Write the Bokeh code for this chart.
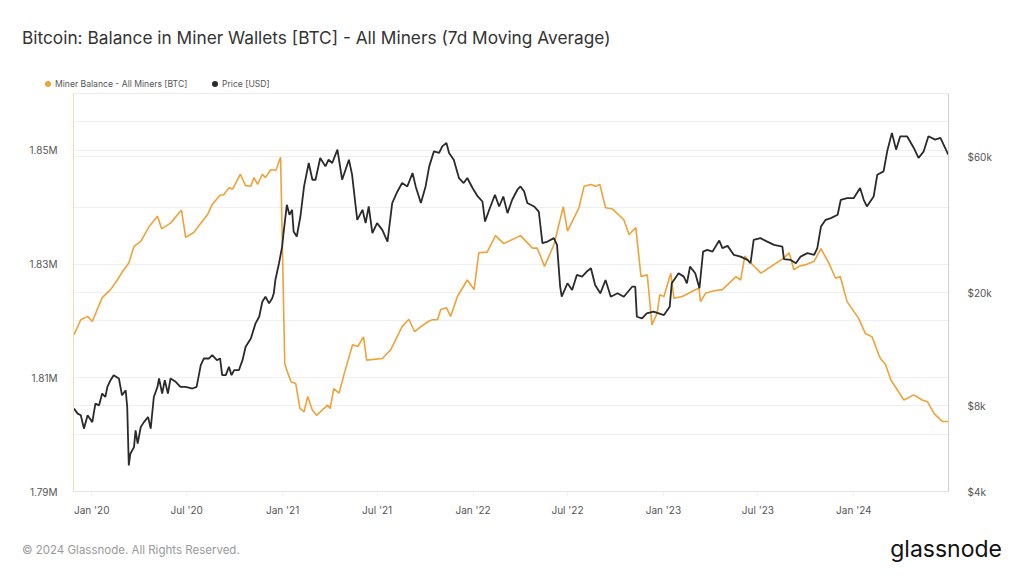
import pandas as pd
from bokeh.plotting import figure
from bokeh.layouts import column
from bokeh.models import (Range1d, LogAxis, LogScale, FixedTicker, Grid, Div,
                          DatetimeTickFormatter, MonthsTicker, ColumnDataSource)
from bokeh.embed import file_html
from bokeh.resources import INLINE

# ---------------- data ----------------
balance_dates = [
    "2019-11-28", "2019-12-11", "2019-12-24", "2020-01-02", "2020-01-21", "2020-02-06",
    "2020-02-19", "2020-02-29", "2020-03-12", "2020-03-22", "2020-04-04", "2020-04-20",
    "2020-05-06", "2020-05-14", "2020-05-31", "2020-06-21", "2020-06-29", "2020-07-15",
    "2020-07-28", "2020-08-10", "2020-08-19", "2020-09-03", "2020-09-10", "2020-09-20",
    "2020-09-27", "2020-10-12", "2020-10-22", "2020-11-01", "2020-11-07", "2020-11-14",
    "2020-11-23", "2020-11-29", "2020-12-09", "2020-12-19", "2020-12-28", "2021-01-05",
    "2021-01-08", "2021-01-17", "2021-01-26", "2021-02-03", "2021-02-11", "2021-02-18",
    "2021-02-27", "2021-03-07", "2021-03-28", "2021-04-02", "2021-04-09", "2021-04-19",
    "2021-05-02", "2021-05-15", "2021-05-25", "2021-06-05", "2021-06-11", "2021-07-11",
    "2021-07-27", "2021-08-18", "2021-08-31", "2021-09-11", "2021-09-23", "2021-10-07",
    "2021-10-15", "2021-10-25", "2021-10-31", "2021-11-11", "2021-11-19", "2021-12-02",
    "2021-12-21", "2022-01-03", "2022-01-12", "2022-01-28", "2022-02-13", "2022-03-01",
    "2022-04-02", "2022-04-25", "2022-05-04", "2022-05-18", "2022-06-05", "2022-06-23",
    "2022-07-01", "2022-07-23", "2022-08-02", "2022-08-15", "2022-08-24", "2022-09-01",
    "2022-09-12", "2022-09-25", "2022-10-17", "2022-10-27", "2022-11-09", "2022-11-19",
    "2022-12-01", "2022-12-10", "2022-12-20", "2022-12-25", "2023-01-02", "2023-01-15",
    "2023-01-21", "2023-02-06", "2023-03-10", "2023-03-13", "2023-03-23", "2023-04-08",
    "2023-04-24", "2023-05-20", "2023-05-29", "2023-06-06", "2023-06-14", "2023-07-07",
    "2023-08-20", "2023-08-30", "2023-09-08", "2023-09-18", "2023-10-01", "2023-10-17",
    "2023-10-30", "2023-11-14", "2023-11-27", "2023-12-06", "2023-12-19", "2024-01-10",
    "2024-01-23", "2024-02-05", "2024-02-18", "2024-02-21", "2024-03-02", "2024-03-12",
    "2024-04-06", "2024-04-25", "2024-05-11", "2024-05-21", "2024-06-03", "2024-06-19",
    "2024-06-30",
]
balance_btc = [
    1817600, 1820200, 1820800, 1819900, 1824100, 1825500,
    1827200, 1828700, 1830200, 1833100, 1834000, 1836600,
    1838400, 1836200, 1837200, 1839500, 1834700, 1835600,
    1837200, 1838700, 1840500, 1842100, 1842200, 1843400,
    1843200, 1845800, 1843800, 1843700, 1845200, 1844000,
    1845800, 1845200, 1846600, 1846500, 1848800, 1812600,
    1811600, 1809300, 1809000, 1804600, 1804000, 1806700,
    1804300, 1803400, 1805200, 1804600, 1808100, 1807300,
    1811700, 1815800, 1815500, 1817200, 1813100, 1813400,
    1814900, 1819000, 1820300, 1818100, 1819000, 1819900,
    1820200, 1820200, 1822000, 1822300, 1820800, 1824300,
    1827200, 1825500, 1832000, 1832100, 1835000, 1833600,
    1835000, 1832800, 1832800, 1829600, 1833400, 1840100,
    1835800, 1839900, 1843700, 1844000, 1843700, 1844000,
    1839900, 1839700, 1837800, 1835200, 1836400, 1827800,
    1828100, 1819300, 1821400, 1824600, 1824300, 1828400,
    1824000, 1824300, 1825800, 1823400, 1824900, 1825300,
    1825500, 1827800, 1827200, 1831400, 1830500, 1828400,
    1831100, 1832000, 1829000, 1829600, 1829900, 1830500,
    1832700, 1830200, 1827500, 1827800, 1823400, 1820500,
    1817800, 1817200, 1814000, 1813400, 1812300, 1809600,
    1806100, 1807000, 1806100, 1805800, 1803700, 1802300,
    1802300,
]

price_dates = [
    "2019-11-28", "2019-12-05", "2019-12-11", "2019-12-17", "2019-12-24", "2020-01-02",
    "2020-01-08", "2020-01-15", "2020-01-21", "2020-01-27", "2020-01-31", "2020-02-06",
    "2020-02-12", "2020-02-22", "2020-02-28", "2020-03-06", "2020-03-09", "2020-03-12",
    "2020-03-15", "2020-03-22", "2020-03-25", "2020-03-29", "2020-04-04", "2020-04-10",
    "2020-04-18", "2020-04-23", "2020-04-29", "2020-05-06", "2020-05-09", "2020-05-15",
    "2020-05-20", "2020-05-26", "2020-05-31", "2020-06-10", "2020-06-19", "2020-06-29",
    "2020-07-12", "2020-07-20", "2020-07-28", "2020-08-03", "2020-08-13", "2020-08-19",
    "2020-08-28", "2020-09-03", "2020-09-07", "2020-09-14", "2020-09-20", "2020-09-25",
    "2020-09-30", "2020-10-09", "2020-10-16", "2020-10-22", "2020-11-01", "2020-11-10",
    "2020-11-17", "2020-11-23", "2020-11-29", "2020-12-06", "2020-12-12", "2020-12-15",
    "2020-12-18", "2020-12-25", "2020-12-31", "2021-01-03", "2021-01-09", "2021-01-14",
    "2021-01-19", "2021-01-22", "2021-01-28", "2021-02-04", "2021-02-11", "2021-02-20",
    "2021-02-27", "2021-03-05", "2021-03-14", "2021-03-24", "2021-03-30", "2021-04-06",
    "2021-04-16", "2021-04-25", "2021-05-08", "2021-05-14", "2021-05-21", "2021-05-24",
    "2021-06-03", "2021-06-09", "2021-06-15", "2021-06-22", "2021-07-01", "2021-07-11",
    "2021-07-21", "2021-07-30", "2021-08-09", "2021-08-18", "2021-08-28", "2021-09-07",
    "2021-09-13", "2021-09-23", "2021-10-02", "2021-10-09", "2021-10-18", "2021-10-28",
    "2021-11-03", "2021-11-11", "2021-11-16", "2021-11-25", "2021-12-05", "2021-12-14",
    "2021-12-21", "2021-12-31", "2022-01-10", "2022-01-19", "2022-01-24", "2022-02-01",
    "2022-02-12", "2022-02-20", "2022-02-28", "2022-03-08", "2022-03-17", "2022-03-27",
    "2022-04-02", "2022-04-09", "2022-04-15", "2022-04-28", "2022-05-07", "2022-05-14",
    "2022-05-24", "2022-06-05", "2022-06-11", "2022-06-17", "2022-06-20", "2022-07-01",
    "2022-07-10", "2022-07-19", "2022-07-29", "2022-08-07", "2022-08-15", "2022-08-23",
    "2022-09-02", "2022-09-12", "2022-09-22", "2022-10-05", "2022-10-17", "2022-11-02",
    "2022-11-08", "2022-11-11", "2022-11-21", "2022-11-30", "2022-12-13", "2023-01-02",
    "2023-01-13", "2023-01-17", "2023-01-30", "2023-02-09", "2023-02-15", "2023-02-21",
    "2023-03-03", "2023-03-11", "2023-03-18", "2023-03-26", "2023-04-05", "2023-04-18",
    "2023-04-24", "2023-05-04", "2023-05-16", "2023-05-29", "2023-06-11", "2023-06-17",
    "2023-06-23", "2023-07-06", "2023-07-19", "2023-08-01", "2023-08-17", "2023-08-20",
    "2023-09-02", "2023-09-12", "2023-09-21", "2023-10-04", "2023-10-17", "2023-10-23",
    "2023-10-30", "2023-11-08", "2023-11-18", "2023-12-01", "2023-12-07", "2023-12-19",
    "2024-01-01", "2024-01-13", "2024-01-20", "2024-01-26", "2024-02-08", "2024-02-15",
    "2024-02-27", "2024-03-05", "2024-03-14", "2024-03-22", "2024-03-30", "2024-04-12",
    "2024-04-25", "2024-05-04", "2024-05-14", "2024-05-23", "2024-06-05", "2024-06-15",
    "2024-06-24", "2024-06-30",
]
price_usd = [
    7820, 7510, 7410, 6650, 7410, 7010,
    8140, 8030, 8830, 8590, 9320, 9840,
    10250, 9980, 8710, 9070, 7920, 4940,
    5430, 5730, 6560, 5890, 6740, 7010,
    7310, 6650, 8590, 9320, 9980, 8830,
    9840, 8830, 9980, 9710, 9320, 9320,
    9200, 9320, 11110, 11730, 11730, 12050,
    11570, 11730, 10250, 10250, 10960, 10250,
    10670, 10670, 11570, 12890, 13790, 15580,
    16440, 18560, 19330, 18320, 19080, 19870,
    22130, 25340, 28990, 32750, 40660, 37490,
    39040, 32750, 31450, 36970, 47170, 57010,
    49790, 49790, 59370, 55460, 58560, 57010,
    63500, 49790, 58560, 52000, 40100, 36000,
    39040, 35050, 40100, 32320, 35050, 33200,
    30190, 41230, 45280, 48480, 47170, 52570,
    47170, 41230, 47170, 55460, 62640, 61820,
    65220, 67050, 61820, 58560, 50480, 48480,
    50480, 46560, 43480, 41750, 35510, 39040,
    44080, 40100, 43480, 38000, 42340, 45920,
    47170, 45280, 41230, 40100, 38500, 29800,
    30190, 31040, 29400, 20960, 19330, 21550,
    20400, 23050, 22740, 23690, 24340, 21250,
    19870, 22130, 19330, 19870, 19330, 20960,
    20960, 16440, 16220, 16900, 17120, 16670,
    17830, 21550, 23380, 22740, 21550, 24660,
    23380, 20700, 27840, 28230, 27840, 30440,
    28630, 29160, 27110, 26740, 26030, 25340,
    30610, 31040, 30190, 29400, 28990, 26180,
    26030, 25340, 26740, 27490, 27110, 28630,
    34100, 36000, 36500, 37490, 42340, 42920,
    42920, 46560, 42340, 40100, 43480, 51850,
    53260, 62640, 72720, 63500, 70750, 70750,
    64380, 59370, 62640, 70750, 68870, 69820,
    64380, 60980,
]

left_ticks = [1790000, 1800000, 1810000, 1820000, 1830000, 1840000, 1850000, 1860000]
left_labels = ["1.79M", "", "1.81M", "", "1.83M", "", "1.85M", ""]
right_ticks = [4000, 8000, 20000, 60000]
right_labels = ["$4k", "$8k", "$20k", "$60k"]
right_grid_ticks = [8000, 20000, 60000, 80000]

title_text = "Bitcoin: Balance in Miner Wallets [BTC] - All Miners (7d Moving Average)"
series_names = ["Miner Balance - All Miners [BTC]", "Price [USD]"]
footer_text = "\u00a9 2024 Glassnode. All Rights Reserved."
brand_text = "glassnode"

ORANGE = "#f0a23a"
BLACK = "#2a2a2a"
FONT = "Inter"

# ---------------- header (title + legend) ----------------
legend_x = [45, 212]   # dot left edges
header_html = (
    f'<div style="position:relative;width:1024px;height:88px;font-family:{FONT},sans-serif;">'
    f'<div style="position:absolute;left:22px;top:27px;font-size:17.3px;line-height:22px;'
    f'color:#333333;white-space:nowrap;">{title_text}</div>'
)
for name, col, lx in zip(series_names, [ORANGE, BLACK], legend_x):
    header_html += (
        f'<div style="position:absolute;left:{lx}px;top:81px;width:6px;height:6px;'
        f'border-radius:3px;background:{col};"></div>'
        f'<div style="position:absolute;left:{lx + 10}px;top:78px;font-size:8.6px;'
        f'line-height:12px;color:#555555;white-space:nowrap;">{name}</div>'
    )
header_html += '</div>'
header = Div(text=header_html, width=1024, height=88, margin=0)

# ---------------- chart ----------------
bal_src = ColumnDataSource(dict(x=pd.to_datetime(balance_dates), y=balance_btc))
px_src = ColumnDataSource(dict(x=pd.to_datetime(price_dates), y=price_usd))

p = figure(width=1024, height=440, x_axis_type="datetime",
           output_backend="svg", toolbar_location=None,
           x_range=Range1d(pd.Timestamp("2019-11-27"), pd.Timestamp("2024-06-30 12:00")),
           y_range=Range1d(1790000, 1860000),
           min_border_left=73, min_border_right=76,
           min_border_top=5, min_border_bottom=37)
p.extra_y_ranges = {"price": Range1d(4000, 100000)}
p.extra_y_scales = {"price": LogScale()}

p.background_fill_color = "white"
p.border_fill_color = "white"
p.outline_line_color = "#ececec"

# left axis
la = p.yaxis[0]
la.ticker = FixedTicker(ticks=left_ticks)
la.major_label_overrides = {t: l for t, l in zip(left_ticks, left_labels)}
la.axis_line_color = "#f5dcb2"
la.major_tick_line_color = None
la.minor_tick_line_color = None
la.major_label_standoff = 10
la.major_label_text_font = FONT
la.major_label_text_font_size = "10px"
la.major_label_text_color = "#555555"

# right axis
ra = LogAxis(y_range_name="price", ticker=FixedTicker(ticks=right_ticks))
ra.major_label_overrides = {t: l for t, l in zip(right_ticks, right_labels)}
ra.axis_line_color = "#cfcfcf"
ra.major_tick_line_color = None
ra.minor_tick_line_color = None
ra.major_label_standoff = 13
ra.major_label_text_font = FONT
ra.major_label_text_font_size = "10px"
ra.major_label_text_color = "#555555"
p.add_layout(ra, "right")

# x axis
xa = p.xaxis[0]
xa.ticker = MonthsTicker(months=[0, 6])
xa.formatter = DatetimeTickFormatter(months="%b '%y", years="%b '%y", days="%b '%y")
xa.axis_line_color = "#e6e6e6"
xa.major_tick_line_color = "#eeeeee"
xa.major_tick_out = 4
xa.major_tick_in = 0
xa.minor_tick_line_color = None
xa.major_label_standoff = 8
xa.major_label_text_font = FONT
xa.major_label_text_font_size = "10px"
xa.major_label_text_color = "#555555"

# grids
p.xgrid.visible = False
p.ygrid.grid_line_color = "#efefef"
rg = Grid(dimension=1, y_range_name="price", ticker=FixedTicker(ticks=right_grid_ticks),
          grid_line_color="#efefef")
p.add_layout(rg)

# series
p.line("x", "y", source=bal_src, color=ORANGE, line_width=1.6)
p.line("x", "y", source=px_src, color=BLACK, line_width=1.8, y_range_name="price")

# ---------------- footer ----------------
footer_html = (
    f'<div style="position:relative;width:1024px;height:48px;font-family:{FONT},sans-serif;">'
    f'<div style="position:absolute;left:22px;top:15px;font-size:11.5px;line-height:14px;'
    f'color:#9a9a9a;white-space:nowrap;">{footer_text}</div>'
    f'<div style="position:absolute;right:22px;top:7px;font-size:23px;line-height:28px;'
    f'color:#111111;white-space:nowrap;">{brand_text}</div>'
    '</div>'
)
footer = Div(text=footer_html, width=1024, height=48, margin=0)

layout = column(header, p, footer, spacing=0)
open("out.html", "w").write(file_html(layout, INLINE))
